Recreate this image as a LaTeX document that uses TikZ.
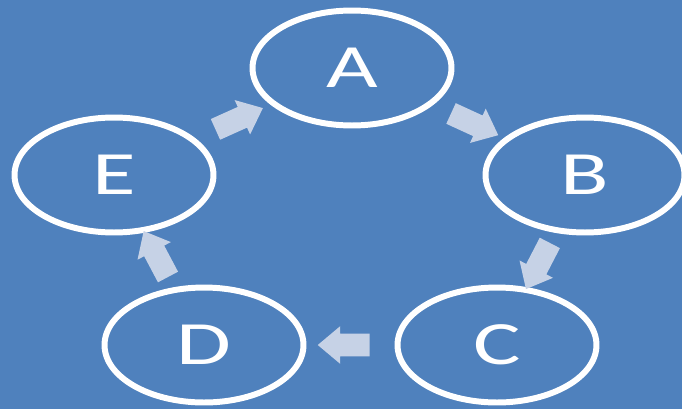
\documentclass[tikz,border=0pt]{standalone}
\usepackage{fontspec}
\newfontfamily\cyclefont[FakeStretch=1.45]{Carlito}
\usetikzlibrary{shapes.geometric,shapes.arrows}
\definecolor{bgblue}{RGB}{79,129,189}
\definecolor{arrowgrey}{RGB}{198,210,230}

\begin{document}
\begin{tikzpicture}[x=0.02cm,y=-0.02cm,
    stage/.style={ellipse,draw=white,line width=3.4pt,minimum width=3.98cm,minimum height=2.3cm,
      inner sep=0pt,text=white,font=\cyclefont\fontsize{35}{40}\selectfont},
    flow/.style={single arrow,fill=arrowgrey,draw=none,minimum height=1.04cm,
      inner xsep=0pt,inner ysep=0.22cm,single arrow head extend=0.15cm,single arrow tip angle=80}]
  \fill[bgblue] (0,0) rectangle (682,409);
  \useasboundingbox (0,0) rectangle (682,409);
  % the five stages
  \node[stage] (A) at (352,68) {A};
  \node[stage] (B) at (585,175) {B};
  \node[stage] (C) at (497,345) {C};
  \node[stage] (D) at (204,345) {D};
  \node[stage] (E) at (114,175) {E};
  % block arrows between them
  \path (A) -- (B) node[midway,sloped,allow upside down,flow] (ab) {};
  \path (B) -- (C) node[midway,sloped,allow upside down,flow] (bc) {};
  \path (C) -- (D) node[midway,sloped,allow upside down,flow] (cd) {};
  \path (D) -- (E) node[midway,sloped,allow upside down,flow] (de) {};
  \path (E) -- (A) node[midway,sloped,allow upside down,flow] (ea) {};
\end{tikzpicture}
\end{document}
